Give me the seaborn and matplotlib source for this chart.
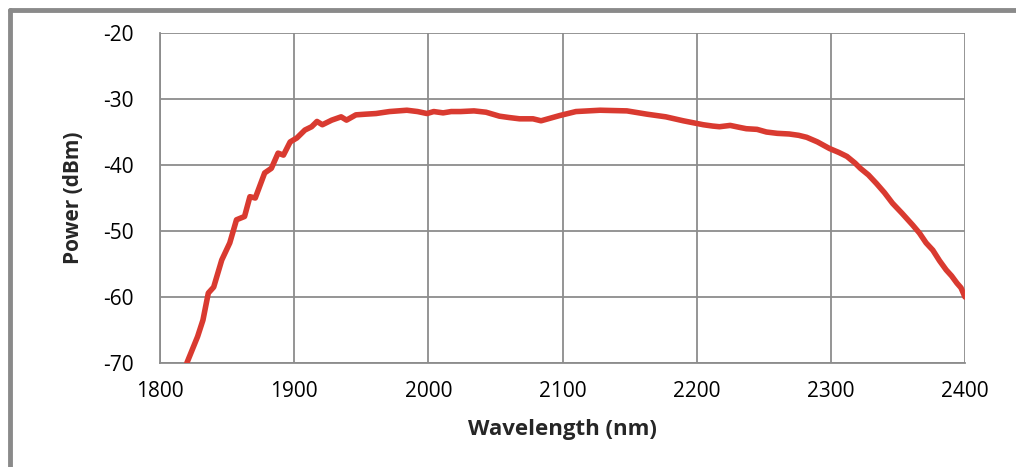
import pandas as pd
import matplotlib
matplotlib.use('Agg')
import matplotlib.pyplot as plt
import seaborn as sns
from matplotlib.lines import Line2D

# Spectrum
wavelength = [1820, 1822, 1825, 1828, 1832, 1836, 1840, 1846, 1852, 1857,
              1863, 1867, 1871, 1878, 1883, 1888, 1892, 1897, 1902, 1908,
              1913, 1917, 1921, 1928, 1935, 1939, 1946, 1953, 1961, 1971,
              1984, 1992, 1999, 2004, 2011, 2017, 2024, 2034, 2043, 2053,
              2060, 2068, 2078, 2084, 2091, 2098, 2110, 2128, 2148, 2163,
              2177, 2190, 2205, 2212, 2217, 2225, 2232, 2237, 2245, 2252,
              2260, 2269, 2276, 2282, 2290, 2299, 2306, 2312, 2318, 2322,
              2328, 2334, 2340, 2346, 2353, 2361, 2366, 2371, 2376, 2381,
              2386, 2390, 2394, 2397, 2400]
power = [-70.0, -69.0, -67.5, -66.0, -63.5, -59.4, -58.5, -54.4, -51.8, -48.3,
         -47.8, -44.8, -45.0, -41.2, -40.5, -38.2, -38.5, -36.5, -35.9, -34.7,
         -34.2, -33.4, -33.9, -33.2, -32.7, -33.2, -32.4, -32.3, -32.2, -31.9,
         -31.7, -31.9, -32.2, -31.9, -32.1, -31.9, -31.9, -31.8, -32.0, -32.6,
         -32.8, -33.0, -33.0, -33.3, -32.9, -32.5, -31.9, -31.7, -31.8, -32.3,
         -32.7, -33.3, -33.9, -34.1, -34.2, -34.0, -34.3, -34.5, -34.6, -35.0,
         -35.2, -35.3, -35.5, -35.8, -36.5, -37.5, -38.1, -38.7, -39.7, -40.5,
         -41.5, -42.8, -44.2, -45.8, -47.3, -49.1, -50.3, -51.8, -52.9, -54.5,
         -55.9, -56.8, -57.9, -58.6, -60.0]

x_ticks = [1800, 1900, 2000, 2100, 2200, 2300, 2400]
y_ticks = [-70, -60, -50, -40, -30, -20]

df = pd.DataFrame({'Wavelength': wavelength, 'Power': power})

sns.set_style('white')
plt.rcParams['font.family'] = ['Open Sans', 'DejaVu Sans']
plt.rcParams['axes.unicode_minus'] = False

grid_col = '#8c8c8c'
fig = plt.figure(figsize=(10.16, 4.67), dpi=100)
ax = fig.add_axes([0.1575, 0.2227, 0.7923, 0.7066])

sns.lineplot(data=df, x='Wavelength', y='Power', ax=ax, color='#d93a30',
             linewidth=4, zorder=3)

ax.set_xlim(1800, 2400)
ax.set_ylim(-70, -20)
ax.set_xticks(x_ticks)
ax.set_yticks(y_ticks)
ax.grid(True, color=grid_col, linewidth=1.3)
for s in ['top', 'right']:
    ax.spines[s].set_visible(False)
for s in ['left', 'bottom']:
    ax.spines[s].set_color(grid_col)
    ax.spines[s].set_linewidth(1.3)
ax.tick_params(axis='both', direction='out', length=7, width=1.3,
               color=grid_col, labelsize=15, labelcolor='black', pad=6)
ax.tick_params(axis='y', pad=12)

ax.set_xlabel('Wavelength (nm)', fontsize=16, fontweight='bold', labelpad=12)
ax.set_ylabel('Power (dBm)', fontsize=15, fontweight='bold', labelpad=14)

# outer frame like the pasted chart border
fig.add_artist(Line2D([0.010, 1.0], [0.979, 0.979], transform=fig.transFigure,
                      color='#8a8a8a', linewidth=3.5))
fig.add_artist(Line2D([0.010, 0.010], [0.0, 0.979], transform=fig.transFigure,
                      color='#8a8a8a', linewidth=3.5))

fig.savefig('out.png', dpi=100)
